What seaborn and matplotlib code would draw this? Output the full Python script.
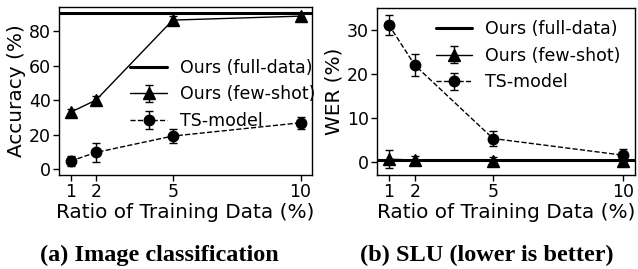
import matplotlib
matplotlib.use("Agg")
import matplotlib.pyplot as plt
import seaborn as sns

# data
ratios = [1, 2, 5, 10]

img_full = 90.6
img_few = [32.9, 40.0, 86.4, 88.7]
img_few_err = [2.0, 2.5, 2.5, 2.0]
img_ts = [4.6, 9.6, 19.1, 26.8]
img_ts_err = [3.0, 5.5, 4.0, 3.5]

slu_full = 0.3
slu_few = [0.6, 0.4, 0.2, 0.1]
slu_few_err = [2.0, 1.0, 1.0, 0.8]
slu_ts = [31.2, 22.0, 5.3, 1.5]
slu_ts_err = [2.3, 2.5, 1.6, 1.4]

xticks = [1, 2, 5, 10]
captions = ["(a) Image classification", "(b) SLU (lower is better)"]
ylabels = ["Accuracy (%)", "WER (%)"]

LABEL_FS = 14.4
TICK_FS = 12.5
LEG_FS = 12.5


def draw(ax, full, few, few_err, ts, ts_err, ylabel):
    ax.axhline(full, color="black", lw=2.2, label="Ours (full-data)")
    ax.errorbar(ratios, few, yerr=few_err, color="black", marker="^", ms=8,
                lw=1, capsize=3, elinewidth=1, label="Ours (few-shot)")
    ax.errorbar(ratios, ts, yerr=ts_err, color="black", marker="o", ms=7.5,
                lw=1, ls="--", capsize=3, elinewidth=1, label="TS-model")
    ax.set_xticks(xticks)
    ax.set_xlabel("Ratio of Training Data (%)", fontsize=LABEL_FS, labelpad=1)
    ax.set_ylabel(ylabel, fontsize=LABEL_FS, labelpad=2)
    ax.tick_params(labelsize=TICK_FS, length=4, width=1, pad=2, colors="black")
    for s in ax.spines.values():
        s.set_color("black")
        s.set_linewidth(1)


def main():
    sns.set_theme(style="ticks", rc={"text.color": "black",
                                     "axes.labelcolor": "black",
                                     "xtick.color": "black",
                                     "ytick.color": "black",
                                     "axes.edgecolor": "black"})
    plt.rcParams["font.family"] = ["DejaVu Sans"]
    fig = plt.figure(figsize=(6.38, 2.69), dpi=100)

    ax1 = fig.add_axes([59 / 638, 1 - 175 / 269, 253 / 638, 168 / 269])
    ax2 = fig.add_axes([377 / 638, 1 - 175 / 269, 258 / 638, 167 / 269])

    draw(ax1, img_full, img_few, img_few_err, img_ts, img_ts_err, ylabels[0])
    ax1.set_ylim(-3.5, 94)
    ax1.set_yticks([0, 20, 40, 60, 80])
    ax1.legend(loc="center right", bbox_to_anchor=(1.04, 0.48), frameon=False,
               fontsize=LEG_FS, borderaxespad=0, labelspacing=0.5,
               handletextpad=0.75, handlelength=2.1)

    draw(ax2, slu_full, slu_few, slu_few_err, slu_ts, slu_ts_err, ylabels[1])
    ax2.set_ylim(-3, 35)
    ax2.set_yticks([0, 10, 20, 30])
    ax2.legend(loc="center right", bbox_to_anchor=(0.972, 0.714), frameon=False,
               fontsize=LEG_FS, borderaxespad=0, labelspacing=0.5,
               handletextpad=0.75, handlelength=2.1)

    for x, cap in zip([159 / 638, 487 / 638], captions):
        fig.text(x, 1 - 255 / 269, cap, ha="center", va="center",
                 fontsize=17.5, fontweight="bold", family="Liberation Serif")

    fig.savefig("out.png", dpi=100)


if __name__ == "__main__":
    main()
